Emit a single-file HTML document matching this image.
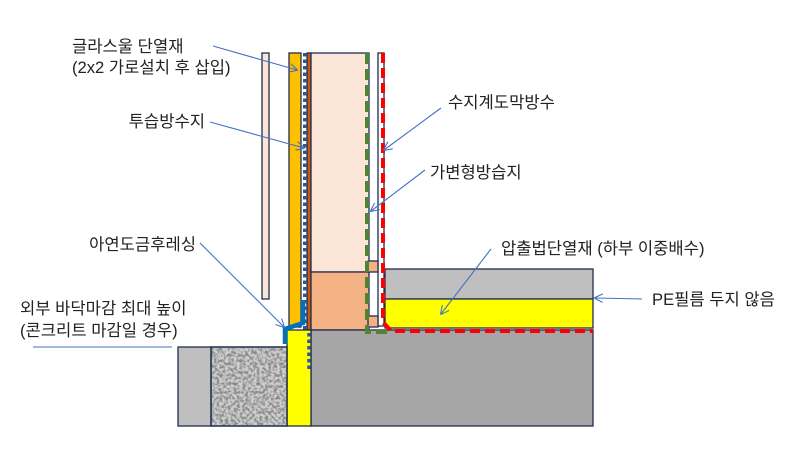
<!DOCTYPE html>
<html><head><meta charset="utf-8"><style>
html,body{margin:0;padding:0;background:#fff;}
svg{display:block;}
text{font-family:"Liberation Sans","Noto Sans CJK KR",sans-serif;font-size:16.6px;fill:#222;}
</style></head><body>
<svg width="795" height="465" viewBox="0 0 795 465" xmlns="http://www.w3.org/2000/svg">
<defs>
<filter id="grav" x="0" y="0" width="100%" height="100%">
<feTurbulence type="fractalNoise" baseFrequency="0.35" numOctaves="3" seed="5"/>
<feColorMatrix type="matrix" values="0 0 0 0 0.25  0 0 0 0 0.25  0 0 0 0 0.25  3.4 0 0 0 -1.3"/>
</filter>
<marker id="ar" viewBox="0 0 10 10" refX="9" refY="5" markerWidth="9" markerHeight="9" orient="auto" markerUnits="userSpaceOnUse">
<path d="M0,0 L10,5 L0,10" fill="none" stroke="#4472C4" stroke-width="1.2"/>
</marker>
</defs>
<g stroke="#1F2D4F" stroke-width="1.3">
<rect x="262" y="53" width="7" height="246" fill="#FBE5D6"/>
<rect x="289" y="53" width="12" height="274" fill="#FFC000"/>
<rect x="307" y="53" width="4" height="277" fill="#C55A11"/>
<rect x="311" y="53" width="58" height="219" fill="#FBE5D6"/>
<rect x="311" y="272" width="58" height="58" fill="#F4B183"/>
<rect x="378" y="53" width="6" height="273" fill="#fff"/>
<rect x="368" y="261" width="10" height="11" fill="#F4B183"/>
<rect x="368" y="316" width="10" height="11" fill="#F4B183"/>
<rect x="385" y="269" width="208" height="30" fill="#BFBFBF"/>
<rect x="385" y="299" width="208" height="29" fill="#FFFF00"/>
<rect x="311" y="330" width="282" height="96" fill="#A6A6A6"/>
<rect x="287" y="330" width="24" height="96" fill="#FFFF00"/>
<rect x="211" y="347" width="76" height="79" fill="#CFCFCF"/>
<rect x="178" y="347" width="33" height="79" fill="#BFBFBF"/>
</g>
<rect x="212" y="348" width="75" height="78" filter="url(#grav)"/>
<rect x="211" y="347" width="76" height="79" fill="none" stroke="#1F2D4F" stroke-width="1.3"/>
<line x1="305" y1="53" x2="305" y2="330" stroke="#2F5597" stroke-width="4" stroke-dasharray="3.5,3"/>
<line x1="309" y1="333" x2="309" y2="372" stroke="#2F5597" stroke-width="3.5" stroke-dasharray="3.5,3"/>
<polyline points="367,53 367,332 388,332" fill="none" stroke="#548235" stroke-width="4" stroke-dasharray="11,5"/>
<polyline points="383,53 383,322 391,331 593,331" fill="none" stroke="#FF0000" stroke-width="4" stroke-dasharray="10,5"/>
<polyline points="303,300 303,323 285,329 285,344" fill="none" stroke="#0070C0" stroke-width="4.5"/>
<g stroke="#4472C4" stroke-width="1.1" fill="none" marker-end="url(#ar)">
<line x1="213" y1="46" x2="297" y2="70"/>
<line x1="210" y1="122" x2="304" y2="148"/>
<line x1="441" y1="108" x2="384" y2="150"/>
<line x1="425" y1="170" x2="371" y2="211"/>
<line x1="200" y1="243" x2="284" y2="327"/>
<line x1="491" y1="249" x2="441" y2="314"/>
<line x1="642" y1="299" x2="595" y2="298"/>
</g>
<line x1="33" y1="347" x2="172" y2="347" stroke="#4472C4" stroke-width="1"/>
<text x="72" y="52">글라스울 단열재</text>
<text x="72" y="73">(2x2 가로설치 후 삽입)</text>
<text x="205" y="127" text-anchor="end">투습방수지</text>
<text x="196" y="250" text-anchor="end">아연도금후레싱</text>
<text x="20" y="314">외부 바닥마감 최대 높이</text>
<text x="20" y="336">(콘크리트 마감일 경우)</text>
<text x="448" y="108">수지계도막방수</text>
<text x="430" y="178">가변형방습지</text>
<text x="501" y="254">압출법단열재 (하부 이중배수)</text>
<text x="652" y="305">PE필름 두지 않음</text>
</svg>
</body></html>
